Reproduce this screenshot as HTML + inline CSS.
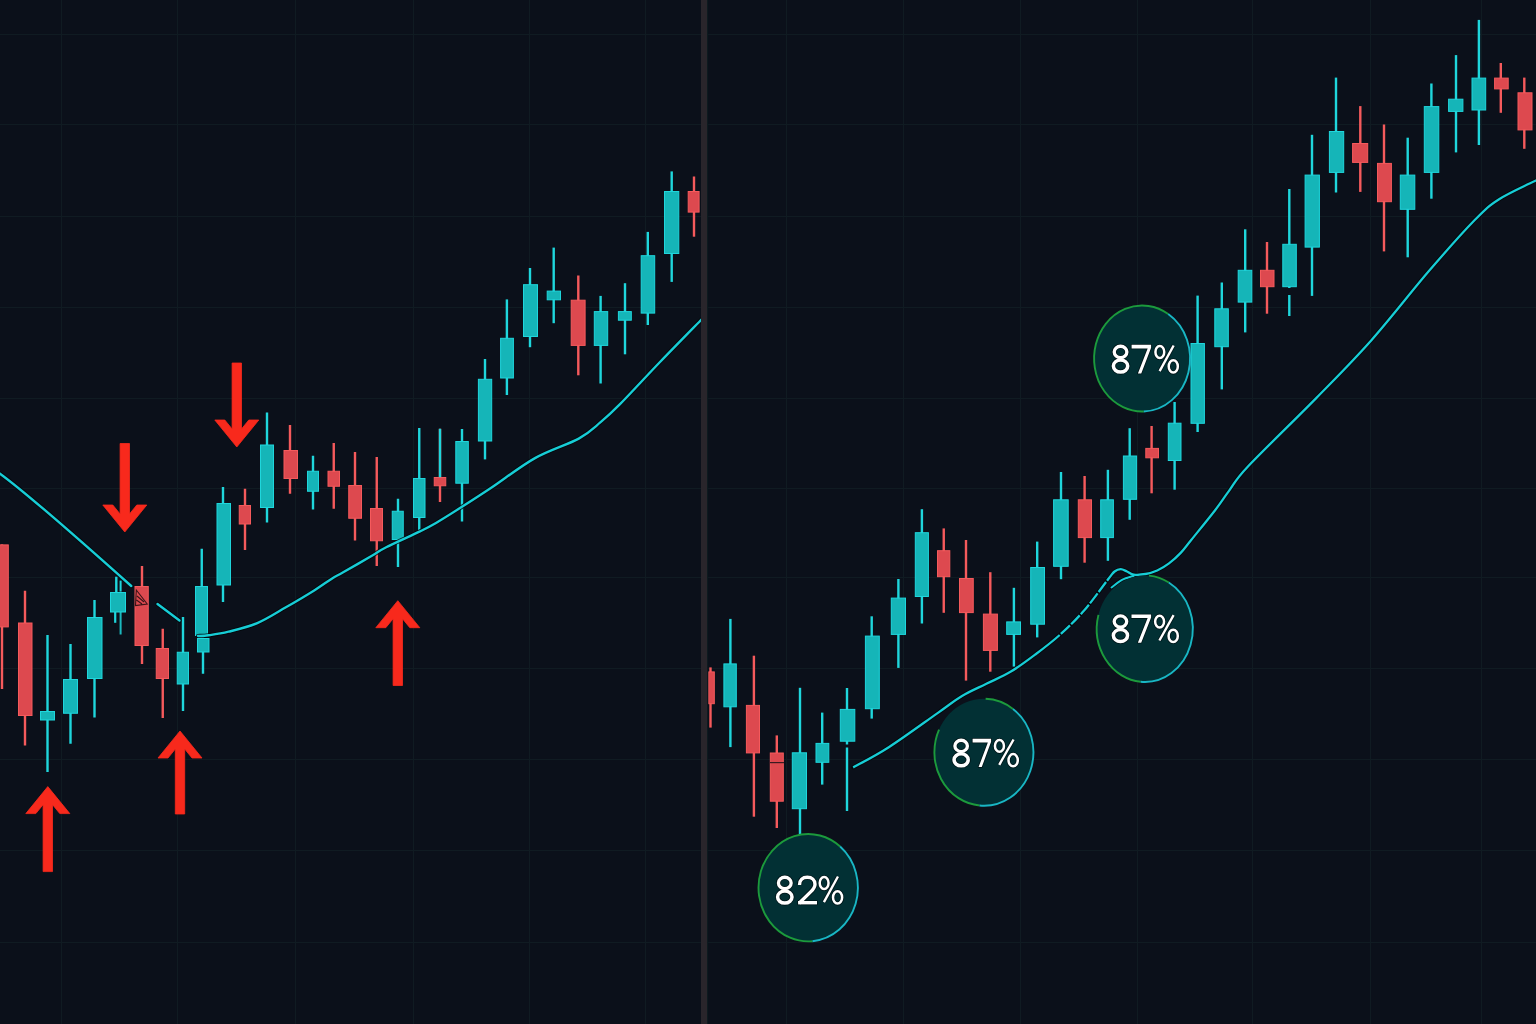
<!DOCTYPE html>
<html><head><meta charset="utf-8"><title>Chart</title>
<style>html,body{margin:0;padding:0;background:#0b101a;width:1536px;height:1024px;overflow:hidden}svg{display:block}text{font-family:"Liberation Sans",sans-serif}</style>
</head><body>
<svg width="1536" height="1024" viewBox="0 0 1536 1024">
<rect width="1536" height="1024" fill="#0b101a"/>
<rect x="0" y="34" width="1536" height="1" fill="#101b22"/>
<rect x="0" y="124" width="1536" height="1" fill="#101b22"/>
<rect x="0" y="216" width="1536" height="1" fill="#101b22"/>
<rect x="0" y="307" width="1536" height="1" fill="#101b22"/>
<rect x="0" y="398" width="1536" height="1" fill="#101b22"/>
<rect x="0" y="488" width="1536" height="1" fill="#101b22"/>
<rect x="0" y="577" width="1536" height="1" fill="#101b22"/>
<rect x="0" y="668" width="1536" height="1" fill="#101b22"/>
<rect x="0" y="759" width="1536" height="1" fill="#101b22"/>
<rect x="0" y="850" width="1536" height="1" fill="#101b22"/>
<rect x="0" y="942" width="1536" height="1" fill="#101b22"/>
<rect x="61" y="0" width="1" height="1024" fill="#101b22"/>
<rect x="177" y="0" width="1" height="1024" fill="#101b22"/>
<rect x="295" y="0" width="1" height="1024" fill="#101b22"/>
<rect x="413" y="0" width="1" height="1024" fill="#101b22"/>
<rect x="529" y="0" width="1" height="1024" fill="#101b22"/>
<rect x="645" y="0" width="1" height="1024" fill="#101b22"/>
<rect x="786" y="0" width="1" height="1024" fill="#101b22"/>
<rect x="903" y="0" width="1" height="1024" fill="#101b22"/>
<rect x="1020" y="0" width="1" height="1024" fill="#101b22"/>
<rect x="1137" y="0" width="1" height="1024" fill="#101b22"/>
<rect x="1252" y="0" width="1" height="1024" fill="#101b22"/>
<rect x="1370" y="0" width="1" height="1024" fill="#101b22"/>
<rect x="1481" y="0" width="1" height="1024" fill="#101b22"/>
<rect x="0.8" y="544.4" width="2.4" height="144.6" fill="#f55a5c"/>
<rect x="-5.5" y="544.9" width="13.8" height="82" fill="#dd494f" stroke="#f55a5c" stroke-width="1"/>
<rect x="23.8" y="590.75" width="2.4" height="154.75" fill="#f55a5c"/>
<rect x="18.5" y="623" width="13.5" height="92.5" fill="#dd494f" stroke="#f55a5c" stroke-width="1"/>
<rect x="46.3" y="635" width="2.4" height="137" fill="#1fd6dc"/>
<rect x="40.5" y="711.5" width="14" height="8.5" fill="#15b5b8" stroke="#1fd6dc" stroke-width="1"/>
<rect x="69.3" y="644" width="2.4" height="99.75" fill="#1fd6dc"/>
<rect x="63.5" y="679.5" width="14" height="33.75" fill="#15b5b8" stroke="#1fd6dc" stroke-width="1"/>
<rect x="93.3" y="600" width="2.4" height="117.5" fill="#1fd6dc"/>
<rect x="87.5" y="617.5" width="14.5" height="61" fill="#15b5b8" stroke="#1fd6dc" stroke-width="1"/>
<rect x="115.1" y="576.7" width="2.4" height="15.3" fill="#1fd6dc"/>
<rect x="110.5" y="592.5" width="15" height="19.5" fill="#15b5b8" stroke="#1fd6dc" stroke-width="1"/>
<rect x="140.8" y="566" width="2.4" height="98" fill="#f55a5c"/>
<rect x="135" y="586.5" width="13.25" height="59" fill="#dd494f" stroke="#f55a5c" stroke-width="1"/>
<rect x="161.55" y="628.75" width="2.4" height="89.25" fill="#f55a5c"/>
<rect x="156.25" y="648.5" width="12.25" height="30" fill="#dd494f" stroke="#f55a5c" stroke-width="1"/>
<rect x="181.8" y="617" width="2.4" height="94" fill="#1fd6dc"/>
<rect x="177.25" y="652.25" width="11.25" height="31.75" fill="#15b5b8" stroke="#1fd6dc" stroke-width="1"/>
<rect x="200.55" y="548.75" width="2.4" height="91.25" fill="#1fd6dc"/>
<rect x="195.5" y="586.5" width="12" height="49" fill="#15b5b8" stroke="#1fd6dc" stroke-width="1"/>
<rect x="201.8" y="636" width="2.4" height="37.75" fill="#1fd6dc"/>
<rect x="197.5" y="638.5" width="11.5" height="13.5" fill="#15b5b8" stroke="#1fd6dc" stroke-width="1"/>
<rect x="221.8" y="487" width="2.4" height="115" fill="#1fd6dc"/>
<rect x="217" y="503.5" width="13.5" height="81.5" fill="#15b5b8" stroke="#1fd6dc" stroke-width="1"/>
<rect x="243.8" y="488.75" width="2.4" height="61.25" fill="#f55a5c"/>
<rect x="239.25" y="505.5" width="11.25" height="18.5" fill="#dd494f" stroke="#f55a5c" stroke-width="1"/>
<rect x="265.8" y="412.5" width="2.4" height="110" fill="#1fd6dc"/>
<rect x="260.5" y="445" width="13" height="62.5" fill="#15b5b8" stroke="#1fd6dc" stroke-width="1"/>
<rect x="288.8" y="425" width="2.4" height="68.75" fill="#f55a5c"/>
<rect x="284" y="450.5" width="13.5" height="28" fill="#dd494f" stroke="#f55a5c" stroke-width="1"/>
<rect x="311.8" y="455.75" width="2.4" height="53.75" fill="#1fd6dc"/>
<rect x="307.5" y="471.25" width="11" height="20" fill="#15b5b8" stroke="#1fd6dc" stroke-width="1"/>
<rect x="332.55" y="443" width="2.4" height="65.75" fill="#f55a5c"/>
<rect x="328" y="471.25" width="11.5" height="15" fill="#dd494f" stroke="#f55a5c" stroke-width="1"/>
<rect x="353.8" y="452" width="2.4" height="88.5" fill="#f55a5c"/>
<rect x="348.75" y="485.5" width="12.75" height="32.75" fill="#dd494f" stroke="#f55a5c" stroke-width="1"/>
<rect x="375.55" y="457" width="2.4" height="109" fill="#f55a5c"/>
<rect x="370.5" y="508.5" width="12" height="32.25" fill="#dd494f" stroke="#f55a5c" stroke-width="1"/>
<rect x="396.8" y="498.75" width="2.4" height="68.25" fill="#1fd6dc"/>
<rect x="392.25" y="511.25" width="11" height="28.25" fill="#15b5b8" stroke="#1fd6dc" stroke-width="1"/>
<rect x="418.05" y="428" width="2.4" height="102" fill="#1fd6dc"/>
<rect x="413.5" y="478.5" width="11.5" height="39" fill="#15b5b8" stroke="#1fd6dc" stroke-width="1"/>
<rect x="438.8" y="428.75" width="2.4" height="73.25" fill="#f55a5c"/>
<rect x="434.25" y="477.5" width="11.5" height="8.25" fill="#dd494f" stroke="#f55a5c" stroke-width="1"/>
<rect x="460.8" y="429" width="2.4" height="92.5" fill="#1fd6dc"/>
<rect x="455.8" y="441.5" width="12.5" height="41.7" fill="#15b5b8" stroke="#1fd6dc" stroke-width="1"/>
<rect x="483.8" y="359" width="2.4" height="100.4" fill="#1fd6dc"/>
<rect x="478.4" y="379.3" width="13.3" height="61.7" fill="#15b5b8" stroke="#1fd6dc" stroke-width="1"/>
<rect x="505.7" y="299.4" width="2.4" height="95.6" fill="#1fd6dc"/>
<rect x="500.6" y="338.3" width="12.8" height="39.7" fill="#15b5b8" stroke="#1fd6dc" stroke-width="1"/>
<rect x="528.8" y="268" width="2.4" height="79.2" fill="#1fd6dc"/>
<rect x="523.5" y="284.7" width="14" height="51.8" fill="#15b5b8" stroke="#1fd6dc" stroke-width="1"/>
<rect x="552.5" y="247.6" width="2.4" height="75.6" fill="#1fd6dc"/>
<rect x="547.2" y="291.1" width="13.3" height="8.7" fill="#15b5b8" stroke="#1fd6dc" stroke-width="1"/>
<rect x="577.1" y="275.5" width="2.4" height="99.8" fill="#f55a5c"/>
<rect x="571.2" y="300.2" width="13.9" height="45.2" fill="#dd494f" stroke="#f55a5c" stroke-width="1"/>
<rect x="599.4" y="295.9" width="2.4" height="87.6" fill="#1fd6dc"/>
<rect x="594.3" y="311.6" width="13.4" height="33.8" fill="#15b5b8" stroke="#1fd6dc" stroke-width="1"/>
<rect x="623.8" y="283.2" width="2.4" height="71.1" fill="#1fd6dc"/>
<rect x="618.4" y="311.6" width="12.9" height="8.6" fill="#15b5b8" stroke="#1fd6dc" stroke-width="1"/>
<rect x="646.6" y="231.9" width="2.4" height="93.1" fill="#1fd6dc"/>
<rect x="641.2" y="255.7" width="13.5" height="57.4" fill="#15b5b8" stroke="#1fd6dc" stroke-width="1"/>
<rect x="670.5" y="171.4" width="2.4" height="110.5" fill="#1fd6dc"/>
<rect x="664.5" y="191.5" width="14.3" height="62" fill="#15b5b8" stroke="#1fd6dc" stroke-width="1"/>
<rect x="692.8" y="176.5" width="2.4" height="60.2" fill="#f55a5c"/>
<rect x="688.2" y="191.5" width="10.9" height="20.6" fill="#dd494f" stroke="#f55a5c" stroke-width="1"/>
<rect x="709.3" y="667.4" width="2.4" height="60.2" fill="#f55a5c"/>
<rect x="708.7" y="671.9" width="5.6" height="31.8" fill="#dd494f" stroke="#f55a5c" stroke-width="1"/>
<rect x="729.2" y="618.9" width="2.4" height="128.2" fill="#1fd6dc"/>
<rect x="723.9" y="663.9" width="12.4" height="42.9" fill="#15b5b8" stroke="#1fd6dc" stroke-width="1"/>
<rect x="752.7" y="655.7" width="2.4" height="161" fill="#f55a5c"/>
<rect x="746.4" y="705.4" width="13.1" height="47.5" fill="#dd494f" stroke="#f55a5c" stroke-width="1"/>
<rect x="775.6" y="735.4" width="2.4" height="92.6" fill="#f55a5c"/>
<rect x="770.3" y="753" width="13" height="48.2" fill="#dd494f" stroke="#f55a5c" stroke-width="1"/>
<rect x="798.8" y="687.8" width="2.4" height="147.2" fill="#1fd6dc"/>
<rect x="792.3" y="752.8" width="14.2" height="55.9" fill="#15b5b8" stroke="#1fd6dc" stroke-width="1"/>
<rect x="821" y="712.6" width="2.4" height="72" fill="#1fd6dc"/>
<rect x="816" y="743.4" width="12.8" height="18.9" fill="#15b5b8" stroke="#1fd6dc" stroke-width="1"/>
<rect x="845.8" y="688" width="2.4" height="123" fill="#1fd6dc"/>
<rect x="840.3" y="709.4" width="14.5" height="31.8" fill="#15b5b8" stroke="#1fd6dc" stroke-width="1"/>
<rect x="870.5" y="616.3" width="2.4" height="102.3" fill="#1fd6dc"/>
<rect x="865.4" y="636.1" width="13.9" height="72.6" fill="#15b5b8" stroke="#1fd6dc" stroke-width="1"/>
<rect x="897.2" y="579" width="2.4" height="88.9" fill="#1fd6dc"/>
<rect x="891.3" y="598.1" width="14.2" height="36.3" fill="#15b5b8" stroke="#1fd6dc" stroke-width="1"/>
<rect x="920.7" y="509.2" width="2.4" height="114.3" fill="#1fd6dc"/>
<rect x="915.3" y="532.7" width="13.1" height="63.8" fill="#15b5b8" stroke="#1fd6dc" stroke-width="1"/>
<rect x="942.55" y="528.4" width="2.4" height="84.4" fill="#f55a5c"/>
<rect x="937.5" y="550.7" width="12.3" height="26" fill="#dd494f" stroke="#f55a5c" stroke-width="1"/>
<rect x="964.8" y="540" width="2.4" height="140.6" fill="#f55a5c"/>
<rect x="959.5" y="578.5" width="13.75" height="34.1" fill="#dd494f" stroke="#f55a5c" stroke-width="1"/>
<rect x="989.1" y="572.2" width="2.4" height="99.5" fill="#f55a5c"/>
<rect x="983.4" y="614.1" width="14" height="36.3" fill="#dd494f" stroke="#f55a5c" stroke-width="1"/>
<rect x="1012.7" y="587.8" width="2.4" height="78.8" fill="#1fd6dc"/>
<rect x="1006.7" y="621.9" width="13.8" height="12.5" fill="#15b5b8" stroke="#1fd6dc" stroke-width="1"/>
<rect x="1036" y="541.6" width="2.4" height="95.8" fill="#1fd6dc"/>
<rect x="1030.7" y="567.5" width="13.8" height="56.7" fill="#15b5b8" stroke="#1fd6dc" stroke-width="1"/>
<rect x="1059.8" y="472" width="2.4" height="107.2" fill="#1fd6dc"/>
<rect x="1053.6" y="499.8" width="14.6" height="66.5" fill="#15b5b8" stroke="#1fd6dc" stroke-width="1"/>
<rect x="1083.4" y="476" width="2.4" height="86.7" fill="#f55a5c"/>
<rect x="1078.3" y="499.8" width="13.2" height="37.8" fill="#dd494f" stroke="#f55a5c" stroke-width="1"/>
<rect x="1106.7" y="469.8" width="2.4" height="91" fill="#1fd6dc"/>
<rect x="1100.7" y="499.8" width="12.7" height="37.8" fill="#15b5b8" stroke="#1fd6dc" stroke-width="1"/>
<rect x="1128.5" y="428.2" width="2.4" height="91.6" fill="#1fd6dc"/>
<rect x="1123.4" y="456" width="13.2" height="43.3" fill="#15b5b8" stroke="#1fd6dc" stroke-width="1"/>
<rect x="1150.4" y="426" width="2.4" height="67.3" fill="#f55a5c"/>
<rect x="1145.8" y="448.4" width="12.7" height="9.4" fill="#dd494f" stroke="#f55a5c" stroke-width="1"/>
<rect x="1173.4" y="402" width="2.4" height="87.7" fill="#1fd6dc"/>
<rect x="1168.3" y="423.2" width="12.7" height="37.3" fill="#15b5b8" stroke="#1fd6dc" stroke-width="1"/>
<rect x="1196.4" y="295.6" width="2.4" height="136.4" fill="#1fd6dc"/>
<rect x="1191" y="343.5" width="13.4" height="79.8" fill="#15b5b8" stroke="#1fd6dc" stroke-width="1"/>
<rect x="1220.6" y="282.5" width="2.4" height="106.9" fill="#1fd6dc"/>
<rect x="1214.8" y="308.8" width="13.5" height="37.9" fill="#15b5b8" stroke="#1fd6dc" stroke-width="1"/>
<rect x="1244" y="229.3" width="2.4" height="103.1" fill="#1fd6dc"/>
<rect x="1238.2" y="270.3" width="13.6" height="31.8" fill="#15b5b8" stroke="#1fd6dc" stroke-width="1"/>
<rect x="1265.8" y="242" width="2.4" height="71.7" fill="#f55a5c"/>
<rect x="1260.5" y="270.3" width="13.5" height="16.4" fill="#dd494f" stroke="#f55a5c" stroke-width="1"/>
<rect x="1288.1" y="189" width="2.4" height="127" fill="#1fd6dc"/>
<rect x="1282.8" y="244.3" width="13.5" height="42.4" fill="#15b5b8" stroke="#1fd6dc" stroke-width="1"/>
<rect x="1310.8" y="134.8" width="2.4" height="161.1" fill="#1fd6dc"/>
<rect x="1305.1" y="175.1" width="14.3" height="72" fill="#15b5b8" stroke="#1fd6dc" stroke-width="1"/>
<rect x="1334.8" y="77.6" width="2.4" height="114.9" fill="#1fd6dc"/>
<rect x="1329.4" y="131.5" width="14.3" height="40.9" fill="#15b5b8" stroke="#1fd6dc" stroke-width="1"/>
<rect x="1359.1" y="106.1" width="2.4" height="85.8" fill="#f55a5c"/>
<rect x="1352.6" y="143.5" width="15.1" height="18.9" fill="#dd494f" stroke="#f55a5c" stroke-width="1"/>
<rect x="1382.8" y="124.5" width="2.4" height="126.9" fill="#f55a5c"/>
<rect x="1377.5" y="163.4" width="13.9" height="38.3" fill="#dd494f" stroke="#f55a5c" stroke-width="1"/>
<rect x="1406.5" y="137.7" width="2.4" height="119.6" fill="#1fd6dc"/>
<rect x="1400.3" y="175.1" width="14.5" height="34.2" fill="#15b5b8" stroke="#1fd6dc" stroke-width="1"/>
<rect x="1430.2" y="83.5" width="2.4" height="115.2" fill="#1fd6dc"/>
<rect x="1424.3" y="106.6" width="14.5" height="65.8" fill="#15b5b8" stroke="#1fd6dc" stroke-width="1"/>
<rect x="1454.8" y="55.1" width="2.4" height="97.3" fill="#1fd6dc"/>
<rect x="1448.6" y="99.2" width="14.3" height="12.2" fill="#15b5b8" stroke="#1fd6dc" stroke-width="1"/>
<rect x="1477.7" y="19.9" width="2.4" height="125.1" fill="#1fd6dc"/>
<rect x="1472" y="78.1" width="13.7" height="31.9" fill="#15b5b8" stroke="#1fd6dc" stroke-width="1"/>
<rect x="1499.6" y="63" width="2.4" height="49.8" fill="#f55a5c"/>
<rect x="1494.6" y="78.1" width="13.6" height="10.8" fill="#dd494f" stroke="#f55a5c" stroke-width="1"/>
<rect x="1523.1" y="77.6" width="2.4" height="71.2" fill="#f55a5c"/>
<rect x="1518" y="92.8" width="14" height="37.1" fill="#dd494f" stroke="#f55a5c" stroke-width="1"/>
<rect x="438.8" y="428.75" width="2.4" height="48.5" fill="#1fd6dc"/>
<rect x="114.1" y="612" width="2.2" height="10.8" fill="#1fd6dc"/>
<rect x="119.6" y="580.6" width="2" height="11" fill="#1fd6dc"/>
<rect x="119.6" y="612" width="2" height="22.5" fill="#1fd6dc" opacity="0.85"/>
<path d="M136.3,590 L147.2,604 L135.5,605.6 Z M137,596 L144,602 M136.5,600 L142,604" fill="none" stroke="#3b1418" stroke-width="1.1"/>
<rect x="770" y="762" width="14" height="1.2" fill="#3a1a20"/>
<path d="M-3,471.5 C22,489 62,524 131.25,586" fill="none" stroke="#04070b" stroke-opacity="0.85" stroke-width="4.2" stroke-linecap="round" stroke-linejoin="round"/>
<path d="M157.5,604 C161.17,606.75 175.83,617.75 179.5,620.5" fill="none" stroke="#04070b" stroke-opacity="0.85" stroke-width="4.2" stroke-linecap="round" stroke-linejoin="round"/>
<path d="M198,636 C199.77,635.88 203.5,636.02 208.6,635.3 C213.7,634.58 220.48,633.73 228.6,631.7 C236.72,629.67 247.75,627.17 257.3,623.1 C266.85,619.03 276.35,612.78 285.9,607.3 C295.45,601.82 306.95,594.97 314.6,590.2 C322.25,585.43 327.03,581.68 331.8,578.7 C336.57,575.72 336.52,576.12 343.2,572.3 C349.88,568.48 364.73,559.98 371.9,555.8 C379.07,551.62 378.18,551.27 386.2,547.2 C394.22,543.13 411.7,535.43 420,531.4 C428.3,527.37 429.33,526.88 436,523 C442.67,519.12 450.79,513.97 460,508.1 C469.21,502.23 478.75,496.13 491.25,487.8 C503.75,479.47 520.42,466.3 535,458.1 C549.58,449.9 567.82,444.58 578.75,438.6 C589.68,432.62 593.73,427.93 600.6,422.2 C607.48,416.47 610.1,414.23 620,404.2 C629.9,394.17 646.33,376.2 660,362 C673.67,347.8 695,326.17 702,319" fill="none" stroke="#04070b" stroke-opacity="0.85" stroke-width="4.2" stroke-linecap="round" stroke-linejoin="round"/>
<path d="M853.2,767.4 C859.13,764.03 874.73,756.25 888.8,747.2 C902.87,738.15 925.4,721.63 937.6,713.1 C949.8,704.57 953.87,700.88 962,696 C970.13,691.12 978.25,687.87 986.4,683.8 C994.55,679.73 1002.75,676.48 1010.9,671.6 C1019.05,666.72 1027.17,660.6 1035.3,654.5 C1043.43,648.4 1051.57,642.33 1059.7,635 C1067.83,627.67 1075.97,619.87 1084.1,610.5 C1092.23,601.13 1103.42,585.3 1108.5,578.8 C1113.58,572.3 1112.57,573.1 1114.6,571.5 C1116.63,569.9 1118.63,569.2 1120.7,569.2 C1122.77,569.2 1124.82,570.6 1127,571.5 C1129.18,572.4 1130.72,574.18 1133.8,574.6 C1136.88,575.02 1141.6,574.68 1145.5,574 C1149.4,573.32 1153.28,572.27 1157.2,570.5 C1161.12,568.73 1165.08,566.33 1169,563.4 C1172.92,560.47 1177,556.8 1180.7,552.9 C1184.4,549 1185.47,547.12 1191.2,540 C1196.93,532.88 1208.77,518.43 1215.1,510.2 C1221.43,501.97 1223.65,497.97 1229.2,490.6 C1234.75,483.23 1233.82,481.5 1248.4,466 C1262.98,450.5 1296.2,418.57 1316.7,397.6 C1337.2,376.63 1352.73,361.25 1371.4,340.2 C1390.07,319.15 1411.52,291.28 1428.7,271.3 C1445.88,251.32 1462.77,232.32 1474.5,220.3 C1486.23,208.28 1488.52,206 1499.1,199.2 C1509.68,192.4 1531.52,182.78 1538,179.5" fill="none" stroke="#04070b" stroke-opacity="0.85" stroke-width="4.1" stroke-linecap="round" stroke-linejoin="round"/>
<path d="M1111.5,587.5 C1113.25,586.23 1118.28,581.85 1122,579.9 C1125.72,577.95 1131.83,576.48 1133.8,575.8" fill="none" stroke="#04070b" stroke-opacity="0.85" stroke-width="3.8" stroke-linecap="round" stroke-linejoin="round"/>
<path d="M-3,471.5 C22,489 62,524 131.25,586" fill="none" stroke="#17cdd6" stroke-width="2.4" stroke-linecap="round" stroke-linejoin="round"/>
<path d="M157.5,604 C161.17,606.75 175.83,617.75 179.5,620.5" fill="none" stroke="#17cdd6" stroke-width="2.4" stroke-linecap="round" stroke-linejoin="round"/>
<path d="M198,636 C199.77,635.88 203.5,636.02 208.6,635.3 C213.7,634.58 220.48,633.73 228.6,631.7 C236.72,629.67 247.75,627.17 257.3,623.1 C266.85,619.03 276.35,612.78 285.9,607.3 C295.45,601.82 306.95,594.97 314.6,590.2 C322.25,585.43 327.03,581.68 331.8,578.7 C336.57,575.72 336.52,576.12 343.2,572.3 C349.88,568.48 364.73,559.98 371.9,555.8 C379.07,551.62 378.18,551.27 386.2,547.2 C394.22,543.13 411.7,535.43 420,531.4 C428.3,527.37 429.33,526.88 436,523 C442.67,519.12 450.79,513.97 460,508.1 C469.21,502.23 478.75,496.13 491.25,487.8 C503.75,479.47 520.42,466.3 535,458.1 C549.58,449.9 567.82,444.58 578.75,438.6 C589.68,432.62 593.73,427.93 600.6,422.2 C607.48,416.47 610.1,414.23 620,404.2 C629.9,394.17 646.33,376.2 660,362 C673.67,347.8 695,326.17 702,319" fill="none" stroke="#17cdd6" stroke-width="2.4" stroke-linecap="round" stroke-linejoin="round"/>
<path d="M853.2,767.4 C859.13,764.03 874.73,756.25 888.8,747.2 C902.87,738.15 925.4,721.63 937.6,713.1 C949.8,704.57 953.87,700.88 962,696 C970.13,691.12 978.25,687.87 986.4,683.8 C994.55,679.73 1002.75,676.48 1010.9,671.6 C1019.05,666.72 1027.17,660.6 1035.3,654.5 C1043.43,648.4 1051.57,642.33 1059.7,635 C1067.83,627.67 1075.97,619.87 1084.1,610.5 C1092.23,601.13 1103.42,585.3 1108.5,578.8 C1113.58,572.3 1112.57,573.1 1114.6,571.5 C1116.63,569.9 1118.63,569.2 1120.7,569.2 C1122.77,569.2 1124.82,570.6 1127,571.5 C1129.18,572.4 1130.72,574.18 1133.8,574.6 C1136.88,575.02 1141.6,574.68 1145.5,574 C1149.4,573.32 1153.28,572.27 1157.2,570.5 C1161.12,568.73 1165.08,566.33 1169,563.4 C1172.92,560.47 1177,556.8 1180.7,552.9 C1184.4,549 1185.47,547.12 1191.2,540 C1196.93,532.88 1208.77,518.43 1215.1,510.2 C1221.43,501.97 1223.65,497.97 1229.2,490.6 C1234.75,483.23 1233.82,481.5 1248.4,466 C1262.98,450.5 1296.2,418.57 1316.7,397.6 C1337.2,376.63 1352.73,361.25 1371.4,340.2 C1390.07,319.15 1411.52,291.28 1428.7,271.3 C1445.88,251.32 1462.77,232.32 1474.5,220.3 C1486.23,208.28 1488.52,206 1499.1,199.2 C1509.68,192.4 1531.52,182.78 1538,179.5" fill="none" stroke="#17cdd6" stroke-width="2.3" stroke-linecap="butt" stroke-linejoin="round" stroke-dasharray="246.01 1.6 12.5 1.6 12.5 1.6 12.5 1.6 12.5 1.6 12.5 1.6 5000"/>
<path d="M1111.5,587.5 C1113.25,586.23 1118.28,581.85 1122,579.9 C1125.72,577.95 1131.83,576.48 1133.8,575.8" fill="none" stroke="#17cdd6" stroke-width="2" stroke-linecap="round" stroke-linejoin="round"/>
<rect x="845" y="744.5" width="4" height="3" fill="#0b101a"/>
<rect x="1287" y="288" width="5" height="7" fill="#0b101a"/>
<polygon points="120.1,443.5 129.5,443.5 129.5,513.96 136.8,505 146.8,505 124.8,532 102.8,505 112.8,505 120.1,513.96" fill="#f8291c" stroke="#f8291c" stroke-width="0.8" stroke-linejoin="round"/>
<polygon points="232.1,363 241.5,363 241.5,428.96 248.8,420 258.8,420 236.8,447 214.8,420 224.8,420 232.1,428.96" fill="#f8291c" stroke="#f8291c" stroke-width="0.8" stroke-linejoin="round"/>
<polygon points="43.1,871.6 52.5,871.6 52.5,804.64 59.8,813.6 69.8,813.6 47.8,786.6 25.8,813.6 35.8,813.6 43.1,804.64" fill="#f8291c" stroke="#f8291c" stroke-width="0.8" stroke-linejoin="round"/>
<polygon points="175.3,814 184.7,814 184.7,749.04 192,758 202,758 180,731 158,758 168,758 175.3,749.04" fill="#f8291c" stroke="#f8291c" stroke-width="0.8" stroke-linejoin="round"/>
<polygon points="393.1,685.5 402.5,685.5 402.5,618.74 409.8,627.7 419.8,627.7 397.8,600.7 375.8,627.7 385.8,627.7 393.1,618.74" fill="#f8291c" stroke="#f8291c" stroke-width="0.8" stroke-linejoin="round"/>
<ellipse cx="808.2" cy="887.7" rx="49.7" ry="53.7" fill="#023034"/>
<path d="M812.53,941.2 A49.7,53.7 0 1 1 840.15,846.56" fill="none" stroke="#1c9a3c" stroke-width="1.9"/>
<path d="M840.15,846.56 A49.7,53.7 0 0 1 812.53,941.2" fill="none" stroke="#19b6c4" stroke-width="1.9"/>
<ellipse cx="784.8" cy="882.98" rx="6.36" ry="5.71" fill="none" stroke="#001619" stroke-width="4.9"/>
<ellipse cx="784.8" cy="897.02" rx="7.22" ry="6.06" fill="none" stroke="#001619" stroke-width="5.1"/>
<ellipse cx="784.8" cy="882.98" rx="6.36" ry="5.71" fill="none" stroke="#ffffff" stroke-width="3.3"/>
<ellipse cx="784.8" cy="897.02" rx="7.22" ry="6.06" fill="none" stroke="#ffffff" stroke-width="3.5"/>
<path d="M799.5,884.97 C799.5,879.79 802.7,877.29 807.3,877.29 C812,877.29 815,880.18 815,884.27 C815,887.16 813.5,889.15 810.9,891.64 L799.1,903.3" fill="none" stroke="#001619" stroke-width="5" stroke-linejoin="miter"/>
<polygon points="798.1,901.01 817,901.01 817,904.4 798.1,904.4" fill="#001619" stroke="#001619" stroke-width="1.6" stroke-linejoin="round"/>
<path d="M799.5,884.97 C799.5,879.79 802.7,877.29 807.3,877.29 C812,877.29 815,880.18 815,884.27 C815,887.16 813.5,889.15 810.9,891.64 L799.1,903.3" fill="none" stroke="#ffffff" stroke-width="3.4" stroke-linejoin="miter"/>
<polygon points="798.1,901.01 817,901.01 817,904.4 798.1,904.4" fill="#ffffff"/>
<ellipse cx="824.13" cy="882.98" rx="4.4" ry="6.01" fill="none" stroke="#001619" stroke-width="4.1"/>
<ellipse cx="837.57" cy="897.42" rx="4.55" ry="6.16" fill="none" stroke="#001619" stroke-width="4.1"/>
<path d="M837.96,876.51 L823.93,902.07" fill="none" stroke="#001619" stroke-width="4" stroke-linejoin="miter"/>
<ellipse cx="824.13" cy="882.98" rx="4.4" ry="6.01" fill="none" stroke="#ffffff" stroke-width="2.5"/>
<ellipse cx="837.57" cy="897.42" rx="4.55" ry="6.16" fill="none" stroke="#ffffff" stroke-width="2.5"/>
<path d="M837.96,876.51 L823.93,902.07" fill="none" stroke="#ffffff" stroke-width="2.4" stroke-linejoin="miter"/>
<ellipse cx="983.9" cy="752.2" rx="49.5" ry="53.5" fill="#023034"/>
<path d="M979.59,805.5 A49.5,53.5 0 0 1 939.04,729.59" fill="none" stroke="#1c9a3c" stroke-width="1.9"/>
<path d="M985.63,698.73 A49.5,53.5 0 0 1 1013,708.92" fill="none" stroke="#1c9a3c" stroke-width="1.9"/>
<path d="M1013,708.92 A49.5,53.5 0 0 1 979.59,805.5" fill="none" stroke="#19b6c4" stroke-width="1.9"/>
<ellipse cx="961.15" cy="745.9" rx="6.25" ry="5.65" fill="none" stroke="#001619" stroke-width="4.9"/>
<ellipse cx="961.15" cy="759.8" rx="7.1" ry="6" fill="none" stroke="#001619" stroke-width="5.1"/>
<ellipse cx="961.15" cy="745.9" rx="6.25" ry="5.65" fill="none" stroke="#ffffff" stroke-width="3.3"/>
<ellipse cx="961.15" cy="759.8" rx="7.1" ry="6" fill="none" stroke="#ffffff" stroke-width="3.5"/>
<polygon points="972.6,738.8 991.1,738.8 991.1,741.74 981.76,767.1 978.58,767.1 987.83,742.42 972.6,742.42" fill="#001619" stroke="#001619" stroke-width="1.6" stroke-linejoin="round"/>
<polygon points="972.6,738.8 991.1,738.8 991.1,741.74 981.76,767.1 978.58,767.1 987.83,742.42 972.6,742.42" fill="#ffffff"/>
<ellipse cx="999.45" cy="745.9" rx="4.49" ry="5.95" fill="none" stroke="#001619" stroke-width="4.1"/>
<ellipse cx="1013.15" cy="760.2" rx="4.64" ry="6.1" fill="none" stroke="#001619" stroke-width="4.1"/>
<path d="M1013.56,739.5 L999.25,764.8" fill="none" stroke="#001619" stroke-width="4" stroke-linejoin="miter"/>
<ellipse cx="999.45" cy="745.9" rx="4.49" ry="5.95" fill="none" stroke="#ffffff" stroke-width="2.5"/>
<ellipse cx="1013.15" cy="760.2" rx="4.64" ry="6.1" fill="none" stroke="#ffffff" stroke-width="2.5"/>
<path d="M1013.56,739.5 L999.25,764.8" fill="none" stroke="#ffffff" stroke-width="2.4" stroke-linejoin="miter"/>
<ellipse cx="1144.8" cy="628.7" rx="48" ry="53.3" fill="#023034"/>
<path d="M1140.62,681.8 A48,53.3 0 0 1 1098.44,614.9" fill="none" stroke="#1c9a3c" stroke-width="1.9"/>
<path d="M1148.98,575.6 A48,53.3 0 0 1 1168.8,582.54" fill="none" stroke="#1c9a3c" stroke-width="1.9"/>
<path d="M1168.8,582.54 A48,53.3 0 0 1 1140.62,681.8" fill="none" stroke="#19b6c4" stroke-width="1.9"/>
<ellipse cx="1120.45" cy="621.6" rx="6.25" ry="5.65" fill="none" stroke="#001619" stroke-width="4.9"/>
<ellipse cx="1120.45" cy="635.5" rx="7.1" ry="6" fill="none" stroke="#001619" stroke-width="5.1"/>
<ellipse cx="1120.45" cy="621.6" rx="6.25" ry="5.65" fill="none" stroke="#ffffff" stroke-width="3.3"/>
<ellipse cx="1120.45" cy="635.5" rx="7.1" ry="6" fill="none" stroke="#ffffff" stroke-width="3.5"/>
<polygon points="1131.5,614.5 1151.1,614.5 1151.1,617.44 1141.2,642.8 1137.84,642.8 1147.64,618.12 1131.5,618.12" fill="#001619" stroke="#001619" stroke-width="1.6" stroke-linejoin="round"/>
<polygon points="1131.5,614.5 1151.1,614.5 1151.1,617.44 1141.2,642.8 1137.84,642.8 1147.64,618.12 1131.5,618.12" fill="#ffffff"/>
<ellipse cx="1159.6" cy="621.6" rx="4.45" ry="5.95" fill="none" stroke="#001619" stroke-width="4.1"/>
<ellipse cx="1173.2" cy="635.9" rx="4.6" ry="6.1" fill="none" stroke="#001619" stroke-width="4.1"/>
<path d="M1173.6,615.2 L1159.4,640.5" fill="none" stroke="#001619" stroke-width="4" stroke-linejoin="miter"/>
<ellipse cx="1159.6" cy="621.6" rx="4.45" ry="5.95" fill="none" stroke="#ffffff" stroke-width="2.5"/>
<ellipse cx="1173.2" cy="635.9" rx="4.6" ry="6.1" fill="none" stroke="#ffffff" stroke-width="2.5"/>
<path d="M1173.6,615.2 L1159.4,640.5" fill="none" stroke="#ffffff" stroke-width="2.4" stroke-linejoin="miter"/>
<ellipse cx="1142.1" cy="358.5" rx="48" ry="53" fill="#023034"/>
<path d="M1143.78,411.47 A48,53 0 1 1 1168.24,314.05" fill="none" stroke="#1c9a3c" stroke-width="1.9"/>
<path d="M1168.24,314.05 A48,53 0 0 1 1143.78,411.47" fill="none" stroke="#19b6c4" stroke-width="1.9"/>
<ellipse cx="1120.55" cy="351.98" rx="6.32" ry="5.71" fill="none" stroke="#001619" stroke-width="4.9"/>
<ellipse cx="1120.55" cy="366.02" rx="7.18" ry="6.06" fill="none" stroke="#001619" stroke-width="5.1"/>
<ellipse cx="1120.55" cy="351.98" rx="6.32" ry="5.71" fill="none" stroke="#ffffff" stroke-width="3.3"/>
<ellipse cx="1120.55" cy="366.02" rx="7.18" ry="6.06" fill="none" stroke="#ffffff" stroke-width="3.5"/>
<polygon points="1131.6,344.8 1151.1,344.8 1151.1,347.77 1141.25,373.4 1137.9,373.4 1147.65,348.46 1131.6,348.46" fill="#001619" stroke="#001619" stroke-width="1.6" stroke-linejoin="round"/>
<polygon points="1131.6,344.8 1151.1,344.8 1151.1,347.77 1141.25,373.4 1137.9,373.4 1147.65,348.46 1131.6,348.46" fill="#ffffff"/>
<ellipse cx="1159.83" cy="351.98" rx="4.4" ry="6.01" fill="none" stroke="#001619" stroke-width="4.1"/>
<ellipse cx="1173.27" cy="366.42" rx="4.55" ry="6.16" fill="none" stroke="#001619" stroke-width="4.1"/>
<path d="M1173.66,345.51 L1159.63,371.07" fill="none" stroke="#001619" stroke-width="4" stroke-linejoin="miter"/>
<ellipse cx="1159.83" cy="351.98" rx="4.4" ry="6.01" fill="none" stroke="#ffffff" stroke-width="2.5"/>
<ellipse cx="1173.27" cy="366.42" rx="4.55" ry="6.16" fill="none" stroke="#ffffff" stroke-width="2.5"/>
<path d="M1173.66,345.51 L1159.63,371.07" fill="none" stroke="#ffffff" stroke-width="2.4" stroke-linejoin="miter"/>
<rect x="701" y="0" width="6" height="1024" fill="#29252b"/>
<rect x="707" y="0" width="1.2" height="1024" fill="#0e1a1f"/>
</svg>
</body></html>
